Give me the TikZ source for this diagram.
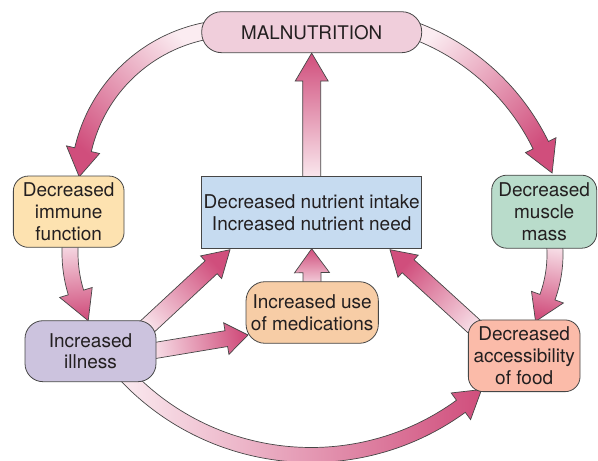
\documentclass[tikz,border=0pt]{standalone}
\usepackage{fontspec}
\setmainfont{TeX Gyre Heros}
\usetikzlibrary{calc}
\definecolor{pinkD}{RGB}{208,78,124}
\definecolor{pinkL}{RGB}{251,236,241}
\definecolor{outl}{RGB}{70,70,70}
\definecolor{txt}{RGB}{35,31,32}
\definecolor{cMal}{RGB}{240,206,219}
\definecolor{cImm}{RGB}{253,226,176}
\definecolor{cMus}{RGB}{185,220,203}
\definecolor{cCen}{RGB}{198,219,240}
\definecolor{cMed}{RGB}{247,205,166}
\definecolor{cIll}{RGB}{204,195,222}
\definecolor{cAcc}{RGB}{251,187,169}
\pgfdeclarelayer{bg}\pgfsetlayers{bg,main}
% arc arrow: cx, cy, R, tail angle, head-base angle, tip angle, half shaft, half head, shading angle
\newcommand\arcarrow[9]{%
  \pgfmathsetmacro\arRo{#3+#7}\pgfmathsetmacro\arRi{#3-#7}%
  \pgfmathsetmacro\arHo{#3+#8}\pgfmathsetmacro\arHi{#3-#8}%
  \path[arr, shading angle=#9, shift={(#1,#2)}] (#4:\arRo)
    arc[start angle=#4, end angle=#5, radius=\arRo] -- (#5:\arHo) -- (#6:#3)
    -- (#5:\arHi) -- (#5:\arRi) arc[start angle=#5, end angle=#4, radius=\arRi] -- cycle;}
% straight arrow: tail, tip, half shaft, half head, head length, shading angle
\newcommand\blockarrow[6]{%
  \coordinate (ba) at ($(#2)!#5!(#1)$);
  \path[arr, shading angle=#6] ($(#1)!#3!-90:(#2)$) -- ($(ba)!#3!-90:(#2)$)
    -- ($(ba)!#4!-90:(#2)$) -- (#2) -- ($(ba)!#4!90:(#2)$)
    -- ($(ba)!#3!90:(#2)$) -- ($(#1)!#3!90:(#2)$) -- cycle;}
\begin{document}
\begin{tikzpicture}[x=1pt,y=1pt,
  box/.style={draw=outl, line width=0.8pt, align=center, text=txt, inner sep=0pt,
    font=\fontsize{19}{21.8}\selectfont},
  arr/.style={draw=outl, line width=0.7pt, top color=pinkD, bottom color=pinkL}]
\useasboundingbox (0,0) rectangle (598,461);
\node[box, fill=cMal, rounded corners=20pt, minimum width=220pt, minimum height=41pt,
  font=\fontsize{18.8}{21.8}\selectfont] (mal) at (311.7,428.8) {MALNUTRITION};
\node[box, fill=cImm, rounded corners=15pt, minimum width=110.7pt, minimum height=71.3pt] (imm) at (68.7,249.3) {Decreased\\immune\\function};
\node[box, fill=cMus, rounded corners=15pt, minimum width=105pt, minimum height=73pt] (mus) at (544.2,249.3) {Decreased\\muscle\\mass};
\node[box, fill=cCen, minimum width=220pt, minimum height=71.6pt] (cen) at (311.7,248.5) {Decreased nutrient intake\\Increased nutrient need};
\node[box, fill=cMed, rounded corners=19pt, minimum width=132.3pt, minimum height=61.6pt] (med) at (312.2,148.5) {Increased use\\of medications};
\node[box, fill=cIll, rounded corners=18pt, minimum width=131pt, minimum height=61pt] (ill) at (90.5,109.8) {Increased\\illness};
\node[box, fill=cAcc, rounded corners=15pt, minimum width=111.7pt, minimum height=71.7pt] (acc) at (524.2,105.2) {Decreased\\accessibility\\of food};
\coordinate (t1) at (311.7,280);
\coordinate (t2) at (312.2,170);
\coordinate (t3) at (135,123);
\coordinate (p3) at (230,211.3);
\coordinate (t4) at (140,108);
\coordinate (p4) at (248,126);
\coordinate (t5) at (490,120);
\coordinate (p5) at (390,211.3);
\begin{pgfonlayer}{bg}
\blockarrow{t1}{mal.south}{9pt}{16.5pt}{28pt}{0}
\blockarrow{t2}{cen.south}{9pt}{17.5pt}{24pt}{0}
\blockarrow{t3}{p3}{8.8pt}{15.5pt}{25.8pt}{-47.2}
\blockarrow{t4}{p4}{8pt}{16pt}{22pt}{-80.5}
\blockarrow{t5}{p5}{8.8pt}{15pt}{24.5pt}{47.7}
\arcarrow{236}{276}{157}{100}{167}{177}{8.5}{17}{137}
\arcarrow{334}{215}{230}{72}{26}{18.5}{8.5}{17}{225}
\arcarrow{206}{208.3}{136}{172}{197}{210}{8}{17}{185}
\arcarrow{430}{206.6}{125}{8}{-20}{-32.4}{8}{17}{170}
\arcarrow{311}{261}{255}{222}{306}{312}{7.5}{16.5}{-90}
\end{pgfonlayer}
\end{tikzpicture}
\end{document}
